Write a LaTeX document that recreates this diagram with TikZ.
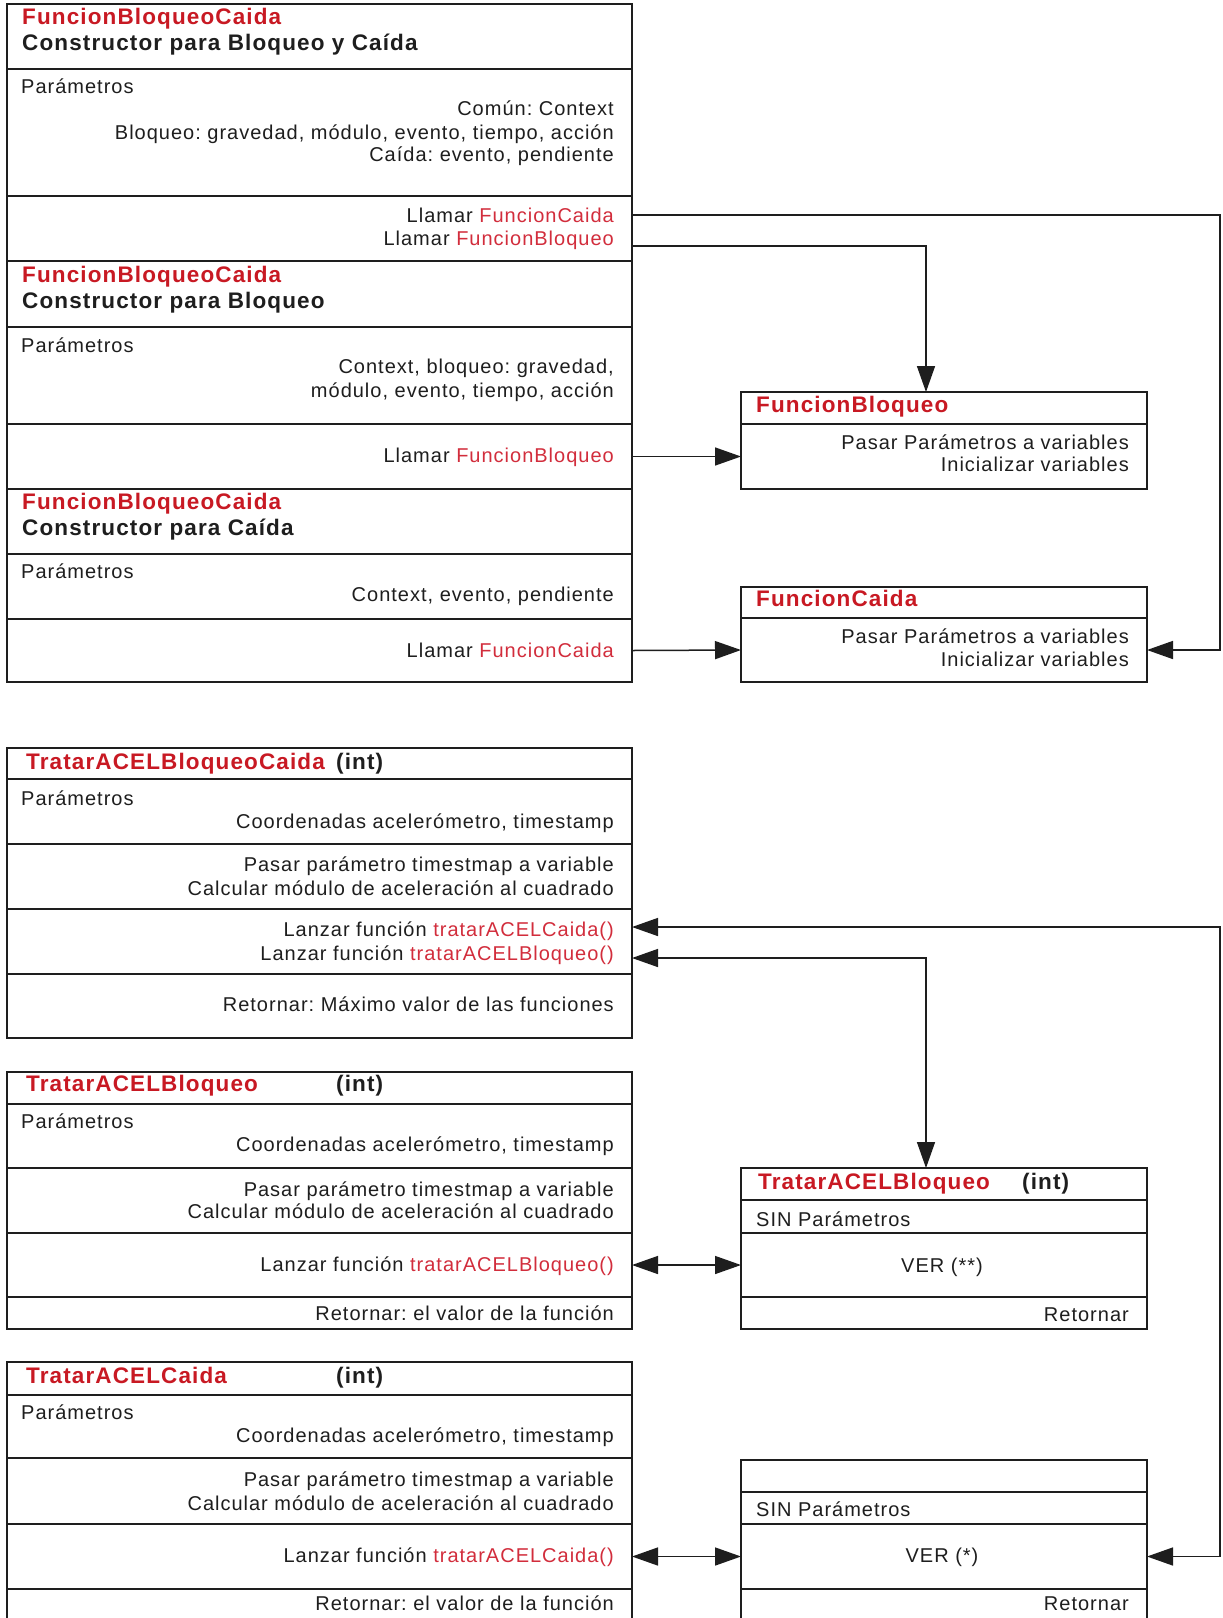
\documentclass[tikz,border=0pt]{standalone}
\usepackage{fontspec}
\setmainfont{Liberation Sans}[LetterSpace=5]
\usetikzlibrary{arrows.meta}
\definecolor{ink}{RGB}{30,30,30}
\definecolor{titred}{RGB}{200,25,35}
\definecolor{callred}{RGB}{210,45,60}
\newcommand{\fn}[1]{\textcolor{callred}{#1}}
\frenchspacing

\tikzset{
  box/.style={draw=ink, line width=1.5pt, rectangle, anchor=north west, inner sep=0pt, outer sep=0pt},
  lcol/.style={box, minimum width=625pt},
  rcol/.style={box, minimum width=406pt},
  txt/.style={inner sep=0pt, text=ink, font=\fontsize{20}{24}\selectfont\frenchspacing, text height=18pt, text depth=4pt},
  lt/.style={txt, anchor=west},
  rt/.style={txt, anchor=east},
  ct/.style={txt, anchor=center},
  ttl/.style={inner sep=0pt, anchor=west, text=ink, font=\fontsize{22.5}{27}\selectfont\bfseries, text height=19pt, text depth=4.5pt},
  rttl/.style={ttl, text=titred},
  tip/.tip={Triangle[length=26pt,width=18pt]},
  link/.style={draw=ink, line width=1.5pt, -tip},
  both/.style={draw=ink, line width=1.5pt, tip-tip},
}

\begin{document}
\begin{tikzpicture}[x=1pt, y=-1pt]
\useasboundingbox (0,0) rectangle (1223,1618);
\fill[white] (0,0) rectangle (1223,1618);
\clip (0,0) rectangle (1223,1618);

% guide rails for the routed connectors
\coordinate (rail) at (1220,0);
\coordinate (mid) at (926,0);

% ---------- constructor: Bloqueo y Caida ----------
\node[lcol, minimum height=65pt] (a1) at (7,4) {};
\node[lcol, minimum height=127pt] (a2) at (7,69) {};
\node[lcol, minimum height=65pt] (a3) at (7,196) {};
\node[rttl] (a1t) at (22,17) {FuncionBloqueoCaida};
\node[ttl] (a1s) at (22,43) {Constructor para Bloqueo y Caída};
\node[lt] (a2p) at (21,86) {Parámetros};
\node[rt] (a2a) at (614,108) {Común: Context};
\node[rt] (a2b) at (614,132) {Bloqueo: gravedad, módulo, evento, tiempo, acción};
\node[rt] (a2c) at (614,154) {Caída: evento, pendiente};
\node[rt] (a3cai) at (614,215) {Llamar \fn{FuncionCaida}};
\node[rt] (a3blo) at (614,238) {Llamar \fn{FuncionBloqueo}};
\coordinate (a3out) at (632,246);

% ---------- constructor: Bloqueo ----------
\node[lcol, minimum height=66pt] (b1) at (7,261) {};
\node[lcol, minimum height=97pt] (b2) at (7,327) {};
\node[lcol, minimum height=65pt] (b3) at (7,424) {};
\node[rttl] (b1t) at (22,275) {FuncionBloqueoCaida};
\node[ttl] (b1s) at (22,301) {Constructor para Bloqueo};
\node[lt] (b2p) at (21,345) {Parámetros};
\node[rt] (b2a) at (614,366) {Context, bloqueo: gravedad,};
\node[rt] (b2b) at (614,390) {módulo, evento, tiempo, acción};
\node[rt] (b3blo) at (614,455) {Llamar \fn{FuncionBloqueo}};

% ---------- constructor: Caida ----------
\node[lcol, minimum height=65pt] (c1) at (7,489) {};
\node[lcol, minimum height=65pt] (c2) at (7,554) {};
\node[lcol, minimum height=63pt] (c3) at (7,619) {};
\node[rttl] (c1t) at (22,502) {FuncionBloqueoCaida};
\node[ttl] (c1s) at (22,528) {Constructor para Caída};
\node[lt] (c2p) at (21,571) {Parámetros};
\node[rt] (c2a) at (614,594) {Context, evento, pendiente};
\node[rt] (c3cai) at (614,650) {Llamar \fn{FuncionCaida}};

% ---------- FuncionBloqueo ----------
\node[rcol, minimum height=32pt] (r1a) at (741,392) {};
\node[rcol, minimum height=65pt] (r1b) at (741,424) {};
\node[rttl] (r1t) at (756,405) {FuncionBloqueo};
\node[rt] (r1x) at (1129,442) {Pasar Parámetros a variables};
\node[rt] (r1y) at (1129,464) {Inicializar variables};

% ---------- FuncionCaida ----------
\node[rcol, minimum height=31pt] (r2a) at (741,587) {};
\node[rcol, minimum height=64pt] (r2b) at (741,618) {};
\node[rttl] (r2t) at (756,599) {FuncionCaida};
\node[rt] (r2x) at (1129,636) {Pasar Parámetros a variables};
\node[rt] (r2y) at (1129,659) {Inicializar variables};

% ---------- TratarACELBloqueoCaida ----------
\node[lcol, minimum height=31pt] (d1) at (7,748) {};
\node[lcol, minimum height=65pt] (d2) at (7,779) {};
\node[lcol, minimum height=65pt] (d3) at (7,844) {};
\node[lcol, minimum height=65pt] (d4) at (7,909) {};
\node[lcol, minimum height=64pt] (d5) at (7,974) {};
\node[rttl] (d1t) at (26,762) {TratarACELBloqueoCaida};
\node[ttl] (d1i) at (336,762) {(int)};
\node[lt] (d2p) at (21,798) {Parámetros};
\node[rt] (d2a) at (614,821) {Coordenadas acelerómetro, timestamp};
\node[rt] (d3a) at (614,864) {Pasar parámetro timestmap a variable};
\node[rt] (d3b) at (614,888) {Calcular módulo de aceleración al cuadrado};
\node[rt] (d4cai) at (614,929) {Lanzar función \fn{tratarACELCaida()}};
\node[rt] (d4blo) at (614,953) {Lanzar función \fn{tratarACELBloqueo()}};
\node[rt] (d5a) at (614,1004) {Retornar: Máximo valor de las funciones};
\coordinate (d4in1) at (632,927);
\coordinate (d4in2) at (632,958);

% ---------- TratarACELBloqueo ----------
\node[lcol, minimum height=32pt] (e1) at (7,1072) {};
\node[lcol, minimum height=64pt] (e2) at (7,1104) {};
\node[lcol, minimum height=65pt] (e3) at (7,1168) {};
\node[lcol, minimum height=64pt] (e4) at (7,1233) {};
\node[lcol, minimum height=32pt] (e5) at (7,1297) {};
\node[rttl] (e1t) at (26,1084) {TratarACELBloqueo};
\node[ttl] (e1i) at (336,1084) {(int)};
\node[lt] (e2p) at (21,1121) {Parámetros};
\node[rt] (e2a) at (614,1144) {Coordenadas acelerómetro, timestamp};
\node[rt] (e3a) at (614,1189) {Pasar parámetro timestmap a variable};
\node[rt] (e3b) at (614,1211) {Calcular módulo de aceleración al cuadrado};
\node[rt] (e4a) at (614,1264) {Lanzar función \fn{tratarACELBloqueo()}};
\node[rt] (e5a) at (614,1313) {Retornar: el valor de la función};

% ---------- TratarACELCaida ----------
\node[lcol, minimum height=33pt] (f1) at (7,1362) {};
\node[lcol, minimum height=63pt] (f2) at (7,1395) {};
\node[lcol, minimum height=66pt] (f3) at (7,1458) {};
\node[lcol, minimum height=65pt] (f4) at (7,1524) {};
\node[lcol, minimum height=33pt] (f5) at (7,1589) {};
\node[rttl] (f1t) at (26,1376) {TratarACELCaida};
\node[ttl] (f1i) at (336,1376) {(int)};
\node[lt] (f2p) at (21,1412) {Parámetros};
\node[rt] (f2a) at (614,1435) {Coordenadas acelerómetro, timestamp};
\node[rt] (f3a) at (614,1479) {Pasar parámetro timestmap a variable};
\node[rt] (f3b) at (614,1503) {Calcular módulo de aceleración al cuadrado};
\node[rt] (f4a) at (614,1555) {Lanzar función \fn{tratarACELCaida()}};
\node[rt] (f5a) at (614,1603) {Retornar: el valor de la función};

% ---------- TratarACELBloqueo (detail) ----------
\node[rcol, minimum height=32pt] (g1) at (741,1168) {};
\node[rcol, minimum height=33pt] (g2) at (741,1200) {};
\node[rcol, minimum height=64pt] (g3) at (741,1233) {};
\node[rcol, minimum height=32pt] (g4) at (741,1297) {};
\node[rttl] (g1t) at (758,1182) {TratarACELBloqueo};
\node[ttl] (g1i) at (1022,1182) {(int)};
\node[lt] (g2a) at (756,1219) {SIN Parámetros};
\node[ct] (g3a) at (942,1265) {VER (**)};
\node[rt] (g4a) at (1129,1314) {Retornar};

% ---------- unnamed detail box ----------
\node[rcol, minimum height=32pt] (h1) at (741,1460) {};
\node[rcol, minimum height=32pt] (h2) at (741,1492) {};
\node[rcol, minimum height=65pt] (h3) at (741,1524) {};
\node[rcol, minimum height=33pt] (h4) at (741,1589) {};
\node[lt] (h2a) at (756,1509) {SIN Parámetros};
\node[ct] (h3a) at (942,1555) {VER (*)};
\node[rt] (h4a) at (1129,1603) {Retornar};

% ---------- connectors ----------
\draw[link] (a3cai -| a3.east) -- (a3cai -| rail) -- (r2b.east -| rail) -- (r2b.east);
\draw[link] (a3out) -- (a3out -| mid) -- (mid |- r1a.north);
\draw[link] (b3.east) -- (r1b.west);
\draw[link] (c3.east) -- (r2b.west);

\draw[both] (d4in1) -- (d4in1 -| rail) -- (h3.east -| rail) -- (h3.east);
\draw[both] (d4in2) -- (d4in2 -| mid) -- (mid |- g1.north);
\draw[both] (e4.east) -- (g3.west);
\draw[both] (f4.east) -- (h3.west);
\end{tikzpicture}
\end{document}
